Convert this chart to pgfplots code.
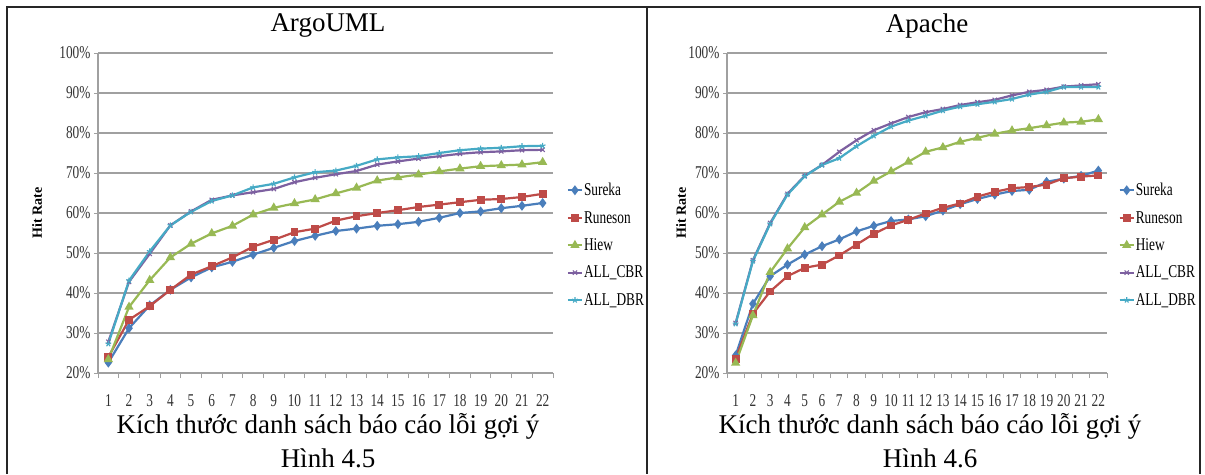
\documentclass[border=0pt]{standalone}
\usepackage{fontspec}
\setmainfont{Liberation Serif}
\newfontfamily\cf[FakeStretch=0.74]{Liberation Serif}
\usepackage{pgfplots}
\usepackage{pgfplotstable}
\pgfplotsset{compat=1.18}
\definecolor{cSur}{HTML}{4A7EBB}
\definecolor{cRun}{HTML}{BE4B48}
\definecolor{cHie}{HTML}{98B954}
\definecolor{cCbr}{HTML}{7D60A0}
\definecolor{cDbr}{HTML}{46AAC5}
\definecolor{gridc}{HTML}{A0A0A0}

\pgfplotstableread{
x sur run hie cbr dbr
1 22.6 24.0 23.4 27.8 27.3
2 31.2 33.3 36.5 42.8 43.1
3 36.9 36.7 43.2 49.8 50.4
4 40.8 40.8 48.9 56.9 56.9
5 43.9 44.6 52.3 60.4 60.3
6 46.4 46.7 54.9 63.3 63.0
7 47.8 48.9 56.8 64.4 64.4
8 49.6 51.6 59.6 65.2 66.4
9 51.3 53.3 61.3 66.0 67.3
10 53.0 55.2 62.4 67.7 68.9
11 54.3 56.1 63.4 68.8 70.2
12 55.5 58.1 64.9 69.7 70.6
13 56.1 59.2 66.3 70.5 71.8
14 56.8 60.0 68.1 72.1 73.4
15 57.2 60.7 68.9 72.9 73.9
16 57.8 61.5 69.6 73.6 74.2
17 58.8 62.1 70.4 74.2 75.0
18 60.0 62.7 71.1 74.8 75.7
19 60.4 63.3 71.7 75.2 76.1
20 61.2 63.5 71.9 75.4 76.3
21 61.8 64.0 72.1 75.7 76.7
22 62.5 64.8 72.7 75.8 76.8
}\argo

\pgfplotstableread{
x sur run hie cbr dbr
1 24.4 23.6 22.5 32.5 32.3
2 37.3 34.8 34.4 48.2 48.0
3 44.2 40.4 45.2 57.5 57.3
4 47.1 44.2 51.1 64.8 64.6
5 49.6 46.3 56.4 69.3 69.2
6 51.7 47.1 59.6 72.0 72.0
7 53.4 49.4 62.8 75.3 73.7
8 55.4 52.1 65.0 78.2 76.7
9 56.8 54.8 68.0 80.7 79.3
10 58.0 56.9 70.4 82.4 81.6
11 58.4 58.3 72.8 84.0 83.1
12 59.2 59.9 75.3 85.2 84.3
13 60.6 61.3 76.4 86.0 85.6
14 62.2 62.4 77.8 87.0 86.6
15 63.5 64.1 78.8 87.7 87.2
16 64.6 65.3 79.8 88.3 87.8
17 65.5 66.2 80.6 89.4 88.5
18 65.8 66.5 81.2 90.3 89.6
19 67.8 67.1 81.9 90.8 90.3
20 68.6 68.7 82.6 91.6 91.5
21 69.3 69.1 82.8 91.9 91.5
22 70.6 69.4 83.4 92.2 91.5
}\apache

\pgfplotsset{
  excel/.style={
    scale only axis, height=320pt,
    xmin=0.5, xmax=22.5, ymin=20, ymax=100,
    axis lines*=left,
    axis line style={draw=gridc, line width=1.3pt},
    xtick={1,...,22},
    minor xtick={0.5,1.5,2.5,3.5,4.5,5.5,6.5,7.5,8.5,9.5,10.5,11.5,12.5,13.5,14.5,15.5,16.5,17.5,18.5,19.5,20.5,21.5,22.5},
    major x tick style={draw=none},
    minor x tick style={draw=gridc, line width=1pt},
    minor tick length=5pt,
    ytick={20,30,...,100},
    y tick style={draw=gridc, line width=1pt},
    major tick length=4pt,
    tick align=outside,
    ymajorgrids,
    grid style={draw=gridc, line width=1.3pt},
    /pgf/number format/assume math mode=true,
    yticklabel={\pgfmathprintnumber{\tick}\%},
    tick label style={font=\cf\fontsize{18}{20}\selectfont, text=black!80},
    xticklabel style={yshift=-14pt},
    legend cell align=left,
    legend style={draw=none, fill=none, anchor=west,
      font=\cf\fontsize{18}{20}\selectfont, row sep=12pt,
      inner sep=0pt, nodes={inner sep=1pt}},
    legend image code/.code={\draw[mark repeat=2,mark phase=2,#1] plot coordinates {(0pt,0pt) (7pt,0pt) (14pt,0pt)};},
    every axis plot/.append style={line width=2.2pt, mark options={solid}},
  },
}

\begin{document}
\begin{tikzpicture}
\useasboundingbox (0pt,0pt) rectangle (1205pt,-474pt);
\fill[white] (0pt,0pt) rectangle (1205pt,-474pt);

\begin{axis}[excel, width=455pt, at={(98pt,-373pt)}, anchor=south west,
  legend style={at={(1.03,0.4)}}]
\addplot[cSur, mark=diamond*, mark size=3.2pt] table[x=x,y=sur]{\argo};
\addlegendentry{Sureka}
\addplot[cRun, mark=square*, mark size=2.8pt] table[x=x,y=run]{\argo};
\addlegendentry{Runeson}
\addplot[cHie, mark=triangle*, mark size=3.2pt] table[x=x,y=hie]{\argo};
\addlegendentry{Hiew}
\addplot[cCbr, mark=x, mark size=3pt, mark options={line width=1.1pt}] table[x=x,y=cbr]{\argo};
\addlegendentry{ALL\_CBR}
\addplot[cDbr, mark=star, mark size=3pt, mark options={line width=1.1pt}] table[x=x,y=dbr]{\argo};
\addlegendentry{ALL\_DBR}
\end{axis}

\begin{axis}[excel, width=380pt, at={(727pt,-373pt)}, anchor=south west,
  legend style={at={(1.03,0.4)}}]
\addplot[cSur, mark=diamond*, mark size=3.2pt] table[x=x,y=sur]{\apache};
\addlegendentry{Sureka}
\addplot[cRun, mark=square*, mark size=2.8pt] table[x=x,y=run]{\apache};
\addlegendentry{Runeson}
\addplot[cHie, mark=triangle*, mark size=3.2pt] table[x=x,y=hie]{\apache};
\addlegendentry{Hiew}
\addplot[cCbr, mark=x, mark size=3pt, mark options={line width=1.1pt}] table[x=x,y=cbr]{\apache};
\addlegendentry{ALL\_CBR}
\addplot[cDbr, mark=star, mark size=3pt, mark options={line width=1.1pt}] table[x=x,y=dbr]{\apache};
\addlegendentry{ALL\_DBR}
\end{axis}

\draw[line width=1.6pt, black!85] (7pt,-474pt) -- (7pt,-7pt) -- (1200pt,-7pt) -- (1200pt,-474pt);
\draw[line width=1.6pt, black!85] (647pt,-7pt) -- (647pt,-474pt);

\node[font=\fontsize{27}{30}\selectfont] at (328pt,-26pt) {ArgoUML};
\node[font=\fontsize{27}{30}\selectfont] at (927pt,-26pt) {Apache};
\node[font=\fontsize{27}{30}\selectfont] at (328pt,-426pt) {Kích thước danh sách báo cáo lỗi gợi ý};
\node[font=\fontsize{27}{30}\selectfont] at (328pt,-458pt) {Hình 4.5};
\node[font=\fontsize{27}{30}\selectfont] at (930pt,-426pt) {Kích thước danh sách báo cáo lỗi gợi ý};
\node[font=\fontsize{27}{30}\selectfont] at (930pt,-458pt) {Hình 4.6};
\node[rotate=90, font=\bfseries\fontsize{14}{16}\selectfont] at (37pt,-213pt) {Hit Rate};
\node[rotate=90, font=\bfseries\fontsize{14}{16}\selectfont] at (681pt,-213pt) {Hit Rate};
\end{tikzpicture}
\end{document}
